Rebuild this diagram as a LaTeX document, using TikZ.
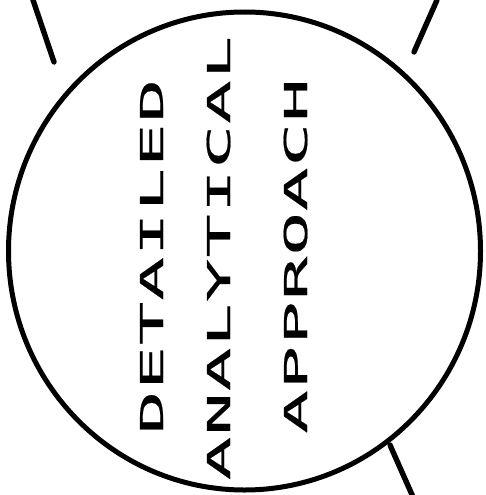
\documentclass[tikz,border=0pt]{standalone}
\usepackage{fontspec}
\usetikzlibrary{positioning}
\newfontfamily\plotfont[FakeStretch=2.3, FakeBold=0.6, LetterSpace=3]{DejaVu Sans Mono}

\begin{document}
\begin{tikzpicture}[x=1pt, y=-1pt,
    outline/.style={line width=5pt},
    link/.style={line width=5.4pt, line cap=round},
    word/.style={rotate=90, anchor=base, inner sep=0pt, font=\fontsize{31.5}{32}\plotfont}]
  \useasboundingbox (0,0) rectangle (485,495);

  % Kreis
  \coordinate (mid) at (244.5,251);
  \draw[outline] (mid) ellipse [x radius=236, y radius=239];

  % Beschriftung (senkrecht)
  \node[word] (detailed)   at (163,256.5) {DETAILED};
  \node[word] (analytical) at (230,258)   {ANALYTICAL};
  \node[word] (approach)   at (307,256)   {APPROACH};

  % Verbindungslinien
  \coordinate (tlA) at (33,0);    \coordinate (tlB) at (54,62);
  \coordinate (trA) at (437,0);   \coordinate (trB) at (414,52);
  \coordinate (brA) at (390,445); \coordinate (brB) at (413,497);
  \draw[link] (tlA) -- (tlB);
  \draw[link] (trA) -- (trB);
  \draw[link] (brA) -- (brB);
\end{tikzpicture}
\end{document}
